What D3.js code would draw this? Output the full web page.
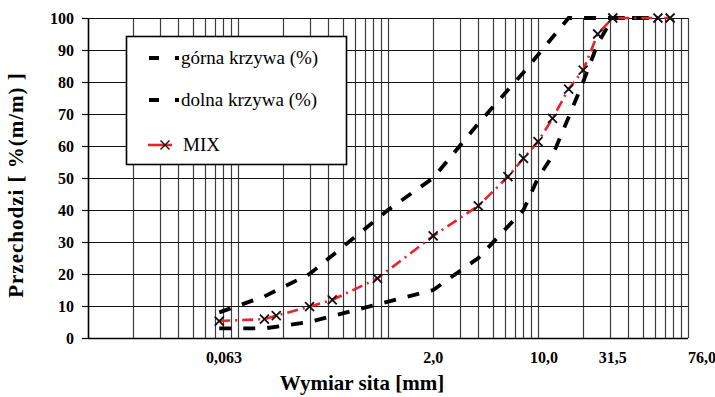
<!DOCTYPE html>
<html>
<head>
<meta charset="utf-8">
<script src="https://cdn.jsdelivr.net/npm/d3@7/dist/d3.min.js"></script>
<style>
  body { margin: 0; background: #fff; }
  svg { display: block; }
</style>
</head>
<body>
<div id="chart"></div>
<script>
// sieve size [mm] -> passing [%]
const mixSieves   = [0.075, 0.15, 0.18, 0.3, 0.425, 0.85, 2, 4, 6.3, 8, 10, 12.5, 16, 20, 25, 31.5, 63, 76]
const mixPassing  = [5.3, 5.9, 7.0, 9.8, 11.9, 18.6, 31.9, 41.3, 50.4, 56.1, 61.4, 68.6, 77.8, 83.7, 95.0, 100, 100, 100]

const upperSieves  = [0.075, 0.15, 0.3, 1, 2, 4, 8, 16, 31.5, 63]
const upperPassing = [8, 13, 20, 40, 50, 67, 83, 100, 100, 100]

const lowerSieves  = [0.075, 0.15, 0.3, 2, 4, 8, 10, 12.5, 16, 20, 25, 31.5, 63]
const lowerPassing = [3, 3, 5, 15, 25, 40, 50, 57, 69, 80, 92, 100, 100]

const xTickValues = [0.063, 2, 10, 31.5, 76]
const xTickLabels = ["0,063", "2,0", "10,0", "31,5", "76,0"]
const yTickValues = [0, 10, 20, 30, 40, 50, 60, 70, 80, 90, 100]

const legendLabels = ["górna krzywa (%)", "dolna krzywa (%)", "MIX"]

function drawChart() {

    const toPoints = (xs, ys) => xs.map((x, i) => ({ x: x, y: ys[i] }))
    const mixData = toPoints(mixSieves, mixPassing)
    const upperData = toPoints(upperSieves, upperPassing)
    const lowerData = toPoints(lowerSieves, lowerPassing)

    const serif = "Liberation Serif, Times New Roman, serif"

    // dimensions
    let dimensions = {
        width: 715,
        height: 397,
        margin: { top: 18, right: 27, bottom: 59, left: 88 },
    }
    dimensions.boundedWidth = dimensions.width - dimensions.margin.left - dimensions.margin.right
    dimensions.boundedHeight = dimensions.height - dimensions.margin.top - dimensions.margin.bottom

    const wrapper = d3.select("#chart")
        .append("svg")
        .attr("width", dimensions.width)
        .attr("height", dimensions.height)
        .style("background", "#fff")

    const bounds = wrapper.append("g")
        .attr("transform", `translate(${dimensions.margin.left},${dimensions.margin.top})`)

    // scales
    const xScale = d3.scaleLog()
        .domain([0.01, 100])
        .range([0, dimensions.boundedWidth])

    const yScale = d3.scaleLinear()
        .domain([0, 100])
        .range([dimensions.boundedHeight, 0])

    // grid
    bounds.append("g")
        .selectAll("line")
        .data(xScale.ticks())
        .join("line")
        .attr("x1", d => Math.round(xScale(d)) + 0.5)
        .attr("x2", d => Math.round(xScale(d)) + 0.5)
        .attr("y1", 0)
        .attr("y2", dimensions.boundedHeight)
        .attr("stroke", "#3c3c3c")
        .attr("stroke-width", 1.2)

    bounds.append("g")
        .selectAll("line")
        .data(yTickValues)
        .join("line")
        .attr("x1", 0)
        .attr("x2", dimensions.boundedWidth)
        .attr("y1", d => Math.round(yScale(d)) + 0.5)
        .attr("y2", d => Math.round(yScale(d)) + 0.5)
        .attr("stroke", "#111")
        .attr("stroke-width", 1.2)

    // y axis
    const yAxis = bounds.append("g")
        .call(d3.axisLeft(yScale)
            .tickValues(yTickValues)
            .tickSize(6)
            .tickSizeOuter(0)
            .tickPadding(8))
    yAxis.select(".domain").attr("stroke", "#000").attr("stroke-width", 1.5)
    yAxis.selectAll(".tick line").attr("stroke", "#000").attr("stroke-width", 1.2)
    yAxis.selectAll("text")
        .attr("font-family", serif)
        .attr("font-weight", "bold")
        .attr("font-size", 16)
        .attr("fill", "#000")

    // x axis line
    bounds.append("line")
        .attr("x1", 0).attr("x2", dimensions.boundedWidth)
        .attr("y1", dimensions.boundedHeight + 0.5).attr("y2", dimensions.boundedHeight + 0.5)
        .attr("stroke", "#000")
        .attr("stroke-width", 1.5)

    // x tick labels (hand placed in the original, so a small nudge each)
    const labelNudge = [16, 0, 6, 0, 32]
    bounds.append("g")
        .selectAll("text")
        .data(xTickValues)
        .join("text")
        .attr("x", (d, i) => xScale(d) + labelNudge[i])
        .attr("y", dimensions.boundedHeight + 25)
        .attr("text-anchor", "middle")
        .attr("font-family", serif)
        .attr("font-weight", "bold")
        .attr("font-size", 16)
        .text((d, i) => xTickLabels[i])

    // axis titles
    wrapper.append("text")
        .attr("x", 362)
        .attr("y", 390)
        .attr("text-anchor", "middle")
        .attr("font-family", serif)
        .attr("font-weight", "bold")
        .attr("font-size", 21)
        .text("Wymiar sita [mm]")

    wrapper.append("text")
        .attr("transform", "translate(23,185) rotate(-90)")
        .attr("text-anchor", "middle")
        .attr("font-family", serif)
        .attr("font-weight", "bold")
        .attr("font-size", 21)
        .attr("letter-spacing", 1)
        .text("Przechodzi [ %(m/m) ]")

    // legend
    const legend = wrapper.append("g")
    legend.append("rect")
        .attr("x", 126.5).attr("y", 36.5)
        .attr("width", 220).attr("height", 128)
        .attr("fill", "#fff")
        .attr("stroke", "#000")
        .attr("stroke-width", 1.6)

    // lines
    const lineGenerator = d3.line()
        .x(d => xScale(d.x))
        .y(d => yScale(d.y))

    const envelopeDash = "12,12"

    bounds.append("path")
        .attr("d", lineGenerator(lowerData))
        .attr("fill", "none")
        .attr("stroke", "#000")
        .attr("stroke-width", 3.8)
        .attr("stroke-dasharray", envelopeDash)

    bounds.append("path")
        .attr("d", lineGenerator(upperData))
        .attr("fill", "none")
        .attr("stroke", "#000")
        .attr("stroke-width", 3.8)
        .attr("stroke-dasharray", envelopeDash)

    bounds.append("path")
        .attr("d", lineGenerator(mixData))
        .attr("fill", "none")
        .attr("stroke", "#e8232b")
        .attr("stroke-width", 2.6)
        .attr("stroke-dasharray", "11,5,2,5")

    const crossSize = 4.5
    const crossPath = `M${-crossSize},${-crossSize}L${crossSize},${crossSize}M${-crossSize},${crossSize}L${crossSize},${-crossSize}`

    bounds.append("g")
        .selectAll("path")
        .data(mixData)
        .join("path")
        .attr("transform", d => `translate(${xScale(d.x)},${yScale(d.y)})`)
        .attr("d", crossPath)
        .attr("stroke", "#111")
        .attr("stroke-width", 1.8)
        .attr("fill", "none")

    // legend entries
    const legendRows = [58, 100, 145]
    legendRows.forEach((y, i) => {
        if (i < 2) {
            legend.append("line")
                .attr("x1", 149).attr("x2", 179)
                .attr("y1", y).attr("y2", y)
                .attr("stroke", "#000")
                .attr("stroke-width", 3.8)
                .attr("stroke-dasharray", "10,16")
        } else {
            legend.append("line")
                .attr("x1", 148).attr("x2", 172)
                .attr("y1", y).attr("y2", y)
                .attr("stroke", "#e8232b")
                .attr("stroke-width", 2.6)
            legend.append("path")
                .attr("transform", `translate(165,${y})`)
                .attr("d", crossPath)
                .attr("stroke", "#111")
                .attr("stroke-width", 1.4)
                .attr("fill", "none")
        }
        legend.append("text")
            .attr("x", i < 2 ? 181 : 183)
            .attr("y", y + 6)
            .attr("font-family", serif)
            .attr("font-size", 19)
            .text(legendLabels[i])
    })
}

drawChart();
</script>
</body>
</html>
